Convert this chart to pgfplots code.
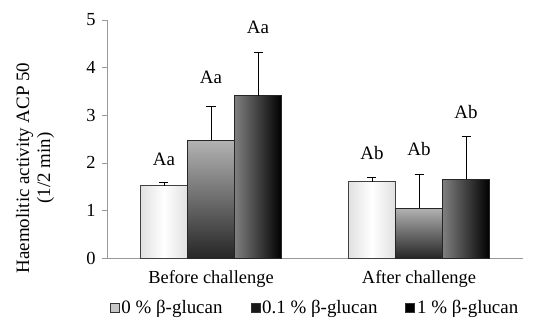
\documentclass[border=0pt]{standalone}
\usepackage{pgfplots}
\pgfplotsset{compat=1.18}
\usepackage{fontspec}
\setmainfont{Liberation Serif}
\begin{document}
\begin{tikzpicture}[x=1bp,y=1bp]
\pgfplotsset{
  barA/.style={ybar, forget plot, bar width=47bp, bar shift=0bp, draw=black!75, line width=0.8pt, left color=black!12, right color=black!12, middle color=white},
  barB/.style={ybar, forget plot, bar width=47bp, bar shift=0bp, draw=black!85, line width=0.8pt, top color=black!30, bottom color=black!85},
  barC/.style={ybar, forget plot, bar width=47bp, bar shift=0bp, draw=black!85, line width=0.8pt, left color=black!50, right color=black},
}
\begin{axis}[
  at={(0,0)}, anchor=south west,
  scale only axis, width=416bp, height=238bp,
  xmin=-0.5, xmax=1.5, ymin=0, ymax=5,
  axis lines=left,
  axis line style={-, draw=gray!80, line width=0.8pt},
  xtick={0,1}, xticklabels={Before challenge, After challenge},
  extra x ticks={0.5}, extra x tick labels={},
  extra x tick style={major tick length=5bp, tick style={draw=gray!80}},
  x tick style={draw=none},
  ytick={0,1,2,3,4,5},
  major tick length=5bp,
  tick align=outside,
  y tick style={draw=gray!80, line width=0.6pt},
  /pgf/number format/assume math mode=true,
  tick label style={font=\fontsize{18.5}{20}\selectfont},
  yticklabel style={xshift=-3bp},
  xticklabel style={yshift=-4bp},
  ylabel={Haemolitic activity ACP 50\\(1/2 min)},
  ylabel style={at={(axis description cs:-0.173,0.378)}, anchor=center, align=center, font=\fontsize{19}{21}\selectfont},
  error bars/y dir=plus, error bars/y explicit,
  error bars/error bar style={draw=black, line width=0.8pt},
  error bars/error mark options={rotate=90, mark size=4.5bp, draw=black, line width=0.8pt},
  legend style={at={(rel axis cs:0.5,0)}, anchor=north, yshift=-38bp, draw=none, fill=none,
    legend columns=3, font=\fontsize{19}{20}\selectfont,
    /tikz/every even column/.append style={column sep=26bp}},
  legend cell align=left,
  clip=false,
]
\addplot[barA] coordinates {(-0.226,1.52) +- (0,0.06)};
\addplot[barA] coordinates {(0.774,1.60) +- (0,0.09)};
\addplot[barB] coordinates {(0,2.47) +- (0,0.72)};
\addplot[barB] coordinates {(1,1.05) +- (0,0.71)};
\addplot[barC] coordinates {(0.226,3.41) +- (0,0.90)};
\addplot[barC] coordinates {(1.226,1.65) +- (0,0.90)};
\addlegendimage{legend image code/.code={\draw[draw=black!80, line width=0.7pt, fill=black!22] (0bp,-4.5bp) rectangle (9bp,4.5bp);}}
\addlegendentry{0 \% β-glucan}
\addlegendimage{legend image code/.code={\draw[draw=black!80, line width=0.7pt, fill=black!90] (0bp,-4.5bp) rectangle (9bp,4.5bp);}}
\addlegendentry{0.1 \% β-glucan}
\addlegendimage{legend image code/.code={\draw[draw=black!80, line width=0.7pt, fill=black] (0bp,-4.5bp) rectangle (9bp,4.5bp);}}
\addlegendentry{1 \% β-glucan}
\begin{scope}[every node/.style={font=\fontsize{19}{20}\selectfont}]
\node at (axis cs:-0.226,2.08) {Aa};
\node at (axis cs:0,3.80) {Aa};
\node at (axis cs:0.226,4.85) {Aa};
\node at (axis cs:0.774,2.20) {Ab};
\node at (axis cs:1,2.28) {Ab};
\node at (axis cs:1.226,3.07) {Ab};
\end{scope}
\end{axis}
\pgfresetboundingbox
\path[use as bounding box] (-107bp,-62bp) rectangle (428bp,258bp);
\end{tikzpicture}
\end{document}
